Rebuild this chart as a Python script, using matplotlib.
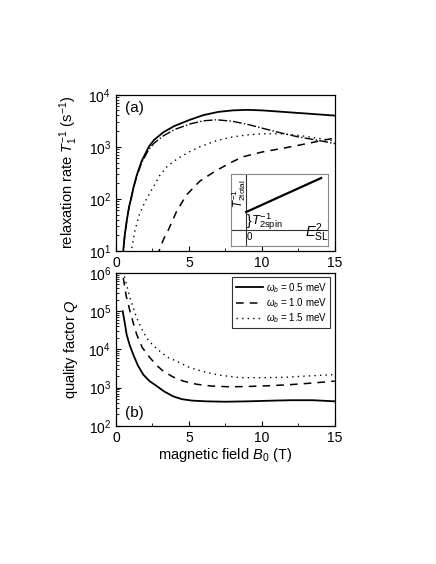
import matplotlib
matplotlib.use('Agg')
import matplotlib.pyplot as plt
from matplotlib.ticker import MultipleLocator, LogLocator, NullFormatter

plt.rcParams['font.family'] = ['Liberation Sans', 'DejaVu Sans']
plt.rcParams['mathtext.fontset'] = 'custom'
plt.rcParams['mathtext.rm'] = 'Liberation Sans'
plt.rcParams['mathtext.it'] = 'Liberation Sans:italic'
plt.rcParams['mathtext.bf'] = 'Liberation Sans:bold'

#################### Data ####################
# (a) relaxation rate T1^-1 (s^-1)
a_solid_x = [0.45, 0.5, 0.6, 0.75, 0.9, 1.03, 1.2, 1.42, 1.75, 2.25, 2.6, 3.24, 4, 5.07, 6, 7, 8, 9, 10, 11, 12, 13, 14, 15]
a_solid_y = [7.1, 10, 20, 40, 71, 100, 166, 282, 525, 1000, 1350, 1900, 2510, 3310, 4070, 4680, 5010, 5130, 5010, 4790, 4570, 4370, 4170, 3980]

a_dashdot_x = [0.45, 0.5, 0.6, 0.75, 0.9, 1.03, 1.2, 1.42, 1.75, 2.25, 2.6, 3.24, 4, 5.07, 6, 6.9, 8, 9.18, 10, 11.4, 12.5, 13.75, 15]
a_dashdot_y = [7.1, 10, 20, 40, 71, 100, 162, 269, 490, 891, 1170, 1620, 2140, 2750, 3160, 3310, 3090, 2630, 2290, 1820, 1550, 1350, 1150]

a_dot_x = [0.95, 1.05, 1.3, 1.6, 2.0, 2.5, 3.0, 3.5, 4.2, 5.0, 5.75, 6.9, 8, 9, 10, 11.4, 12.5, 13.75, 15]
a_dot_y = [7, 10, 25, 50, 89, 158, 282, 417, 589, 794, 1000, 1320, 1550, 1700, 1780, 1780, 1660, 1480, 1290]

a_dash_x = [2.85, 3.01, 3.3, 3.58, 4.16, 4.84, 5.75, 6.9, 8.03, 8.72, 10, 11.4, 12.5, 13.75, 15]
a_dash_y = [7.9, 11.2, 17.8, 25, 58, 120, 220, 355, 525, 646, 794, 933, 1070, 1260, 1480]

# (b) quality factor Q
b_labels = [r'$\omega_b$ = 0.5 meV', r'$\omega_b$ = 1.0 meV', r'$\omega_b$ = 1.5 meV']

b_05_x = [0.46, 0.6, 0.73, 0.95, 1.19, 1.5, 1.87, 2.3, 2.79, 3.3, 3.93, 4.5, 5.2, 6.2, 7.5, 9, 10.8, 12, 13.5, 15]
b_05_y = [1e5, 5e4, 24500, 12600, 7240, 3800, 2190, 1480, 1100, 794, 589, 500, 457, 437, 427, 437, 457, 468, 468, 437]

b_10_x = [0.5, 0.7, 0.96, 1.2, 1.42, 1.8, 2.33, 2.8, 3.24, 3.9, 4.61, 5.5, 6.5, 7.8, 9, 10.5, 12, 13.5, 15]
b_10_y = [741000, 251000, 100000, 46800, 24500, 11200, 6030, 3800, 2690, 1910, 1480, 1230, 1100, 1050, 1070, 1120, 1200, 1320, 1480]

b_15_x = [0.5, 0.6, 0.96, 1.42, 1.75, 2.1, 2.5, 3.01, 3.5, 4.16, 5.07, 6, 7, 8.5, 10, 11.5, 13, 15]
b_15_y = [1.12e6, 741000, 224000, 66100, 35500, 20000, 13200, 8910, 6310, 4900, 3310, 2630, 2140, 1820, 1820, 1860, 2000, 2190]
##################################################################


def style_axis(ax):
    ax.set_yscale('log')
    ax.set_xlim(0, 15)
    ax.xaxis.set_major_locator(MultipleLocator(5))
    ax.xaxis.set_minor_locator(MultipleLocator(2.5))
    ax.yaxis.set_major_locator(LogLocator(base=10))
    ax.yaxis.set_minor_locator(LogLocator(base=10, subs=range(2, 10)))
    ax.yaxis.set_minor_formatter(NullFormatter())
    ax.tick_params(which='both', direction='in', labelsize=10)
    ax.tick_params(which='major', length=3.5, width=0.8)
    ax.tick_params(which='minor', length=2, width=0.6)
    for s in ax.spines.values():
        s.set_linewidth(0.9)


fig = plt.figure(figsize=(4.36, 5.64), dpi=100)

ax1 = fig.add_axes([0.266, 0.555, 0.502, 0.277])
ax1.plot(a_solid_x, a_solid_y, color='black', lw=1.3, ls='-')
ax1.plot(a_dashdot_x, a_dashdot_y, color='black', lw=1.0, ls='-.')
ax1.plot(a_dot_x, a_dot_y, color='black', lw=1.0, ls=(0, (1, 3)))
ax1.plot(a_dash_x, a_dash_y, color='black', lw=1.1, ls=(0, (5, 4)))
style_axis(ax1)
ax1.set_ylim(10, 1e4)
ax1.set_ylabel(r'relaxation rate $T_1^{-1}$ (s$^{-1}$)', fontsize=10.5, labelpad=6)
ax1.text(0.04, 0.96, '(a)', transform=ax1.transAxes, fontsize=11, va='top', ha='left')

# inset sketch
axin = fig.add_axes([0.530, 0.564, 0.222, 0.128])
axin.set_xlim(0, 1)
axin.set_ylim(0, 1)
axin.set_xticks([])
axin.set_yticks([])
for s in axin.spines.values():
    s.set_color('#888888')
    s.set_linewidth(0.8)
axin.axvline(0.157, color='#333333', lw=0.8)
axin.axhline(0.222, color='#333333', lw=0.8)
axin.plot([0.157, 0.93], [0.47, 0.94], color='black', lw=1.6)
axin.text(0.08, 0.72, r'$T^{-1}_{2\mathrm{total}}$', rotation=90, fontsize=8.5, ha='center', va='center')
axin.text(0.165, 0.35, '}', fontsize=10, ha='left', va='center')
axin.text(0.21, 0.34, r'$T^{-1}_{2\mathrm{spin}}$', fontsize=9.5, ha='left', va='center')
axin.text(0.165, 0.06, '0', fontsize=7, ha='left', va='bottom')
axin.text(0.76, 0.03, r'$E^{2}_{\mathrm{SL}}$', fontsize=10.5, ha='left', va='bottom')

ax2 = fig.add_axes([0.266, 0.245, 0.502, 0.271])
ax2.plot(b_05_x, b_05_y, color='black', lw=1.3, ls='-', label=b_labels[0])
ax2.plot(b_10_x, b_10_y, color='black', lw=1.1, ls=(0, (5, 4)), label=b_labels[1])
ax2.plot(b_15_x, b_15_y, color='black', lw=1.0, ls=(0, (1, 3)), label=b_labels[2])
style_axis(ax2)
ax2.set_ylim(1e2, 1e6)
ax2.set_ylabel(r'quality factor $Q$', fontsize=10.5, labelpad=6)
ax2.set_xlabel(r'magnetic field $B_0$ (T)', fontsize=10.5, labelpad=1)
ax2.text(0.04, 0.04, '(b)', transform=ax2.transAxes, fontsize=11, va='bottom', ha='left')
leg = ax2.legend(loc='upper right', fontsize=7, frameon=True, fancybox=False,
                 edgecolor='black', handlelength=2.8, handletextpad=0.3,
                 borderaxespad=0.45, labelspacing=0.15, borderpad=0.35)
leg.get_frame().set_linewidth(0.8)

fig.savefig('out.png', dpi=100)
